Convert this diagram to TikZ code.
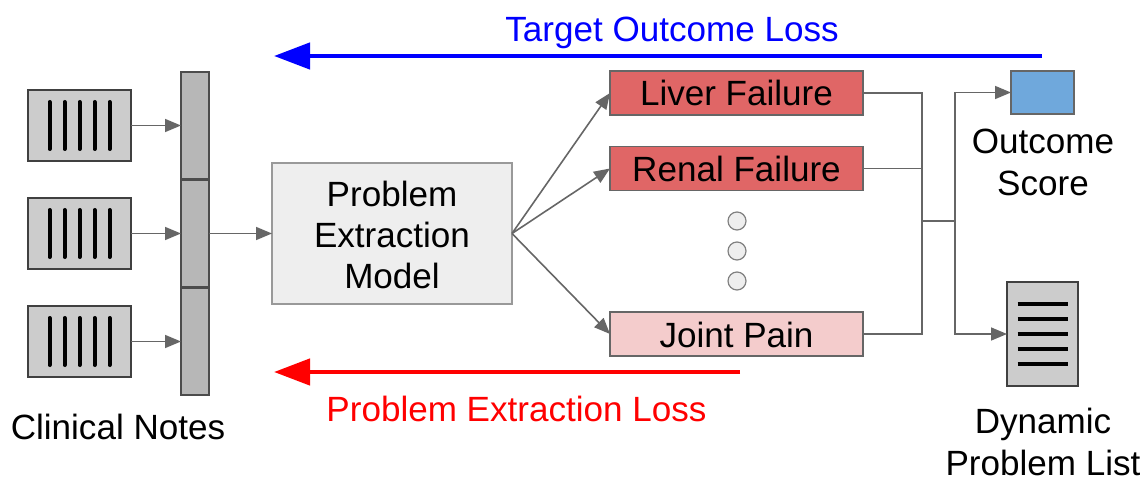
\documentclass[tikz,border=0pt]{standalone}
\usepackage{fontspec}
\setmainfont{Liberation Sans}
\usetikzlibrary{arrows.meta}
\definecolor{edge}{HTML}{666666}
\definecolor{noteg}{HTML}{CCCCCC}
\definecolor{stackg}{HTML}{B7B7B7}
\definecolor{modelg}{HTML}{EEEEEE}
\definecolor{redbox}{HTML}{E06666}
\definecolor{pinkbox}{HTML}{F4CCCC}
\definecolor{bluebox}{HTML}{6FA8DC}
\def\u{0.75pt}
\tikzset{
  x=0.75pt,y=-0.75pt,
  base/.style={inner sep=0pt,outer sep=0pt,line width=1.5pt},
  notebox/.style={base,draw=black!75,fill=noteg,minimum width=103*\u,minimum height=71*\u},
  stackbox/.style={base,draw=black!70,fill=stackg,minimum width=28*\u,minimum height=107*\u},
  modelbox/.style={base,draw=black!40,line width=1.1pt,fill=modelg,minimum width=240*\u,minimum height=141*\u},
  probbox/.style={base,draw=edge,line width=1.1pt,minimum width=253*\u,minimum height=44*\u},
  scorebox/.style={base,draw=edge,fill=bluebox,minimum width=63*\u,minimum height=43*\u},
  docbox/.style={base,draw=black!75,fill=noteg,minimum width=71*\u,minimum height=104*\u},
  dotnode/.style={circle,base,draw=black!50,line width=0.9pt,fill=modelg,minimum size=18*\u},
  label/.style={inner sep=0pt,font=\fontsize{26.3pt}{31pt}\selectfont,align=center},
  flow/.style={draw=edge,line width=1.2pt,-{Triangle[length=16*\u,width=13*\u]}},
  plain/.style={draw=edge,line width=1.2pt},
  inkline/.style={draw=black,line width=3pt,line cap=round},
  docline/.style={draw=black,line width=2.5pt},
  lossblue/.style={draw=blue,line width=3.4pt,-{Triangle[length=36*\u,width=26*\u]}},
  lossred/.style={draw=red,line width=3.4pt,-{Triangle[length=36*\u,width=26*\u]}},
}
\begin{document}
\begin{tikzpicture}
\useasboundingbox (0,0) rectangle (1144,477);
% notes
\node[notebox] (n1) at (79.5,125.5) {};
\node[notebox] (n2) at (79.5,233.5) {};
\node[notebox] (n3) at (79.5,341.5) {};
\foreach \n in {n1,n2,n3}
  \foreach \dx in {-30,-15,0,15,30}
    \draw[inkline] ([xshift=\dx*\u,yshift=23.5*\u]\n.center) -- ([xshift=\dx*\u,yshift=-23.5*\u]\n.center);
% stack
\node[stackbox] (s1) at (195,125.5) {};
\node[stackbox] (s2) at (195,233.5) {};
\node[stackbox] (s3) at (195,341.5) {};
\draw[flow] (n1.east) -- (s1.west);
\draw[flow] (n2.east) -- (s2.west);
\draw[flow] (n3.east) -- (s3.west);
% model
\node[modelbox] (m) at (392,233.5) {};
\node[label] (mt) at (392,235) {Problem\\Extraction\\Model};
\draw[flow] (s2.east) -- (m.west);
% problems
\node[probbox,fill=redbox] (p1) at (736.5,93) {};
\node[probbox,fill=redbox] (p2) at (736.5,168.5) {};
\node[probbox,fill=pinkbox] (p3) at (736.5,334) {};
\node[label] (p1t) at (736.5,93) {Liver Failure};
\node[label] (p2t) at (736.5,169) {Renal Failure};
\node[label] (p3t) at (736.5,335) {Joint Pain};
\draw[flow] (m.east) -- (p1.west);
\draw[flow] (m.east) -- (p2.west);
\draw[flow] (m.east) -- (p3.west);
\node[dotnode] (d1) at (737,221) {};
\node[dotnode] (d2) at (737,251) {};
\node[dotnode] (d3) at (737,281) {};
% outputs
\node[scorebox] (o) at (1042.5,92.5) {};
\node[docbox] (doc) at (1042.5,334) {};
\foreach \dy in {-30,-15,0,15,30}
  \draw[docline] ([xshift=-25*\u,yshift=\dy*\u]doc.center) -- ([xshift=25*\u,yshift=\dy*\u]doc.center);
\coordinate (busl) at (922,221);
\coordinate (busr) at (955,221);
\draw[plain] (p1.east) -| (busl);
\draw[plain] (p2.east) -| (busl);
\draw[plain] (p3.east) -| (busl);
\draw[plain] (busl) -- (busr);
\draw[flow] (busr) |- (o.west);
\draw[flow] (busr) |- (doc.west);
% labels
\node[label] (ol) at (1043,162.5) {Outcome\\Score};
\node[label] (dl) at (1043,442) {Dynamic\\Problem List};
\node[label] (cn) at (118,426.5) {Clinical Notes};
% losses
\coordinate (bs) at (1042,56);
\coordinate (be) at (274,56);
\coordinate (rs) at (740,372);
\coordinate (re) at (274,372);
\draw[lossblue] (bs) -- (be);
\draw[lossred] (rs) -- (re);
\node[label,text=blue] (bl) at (672,33) {Target Outcome Loss};
\node[label,text=red] (rl) at (516.5,409) {Problem Extraction Loss};
\end{tikzpicture}
\end{document}
